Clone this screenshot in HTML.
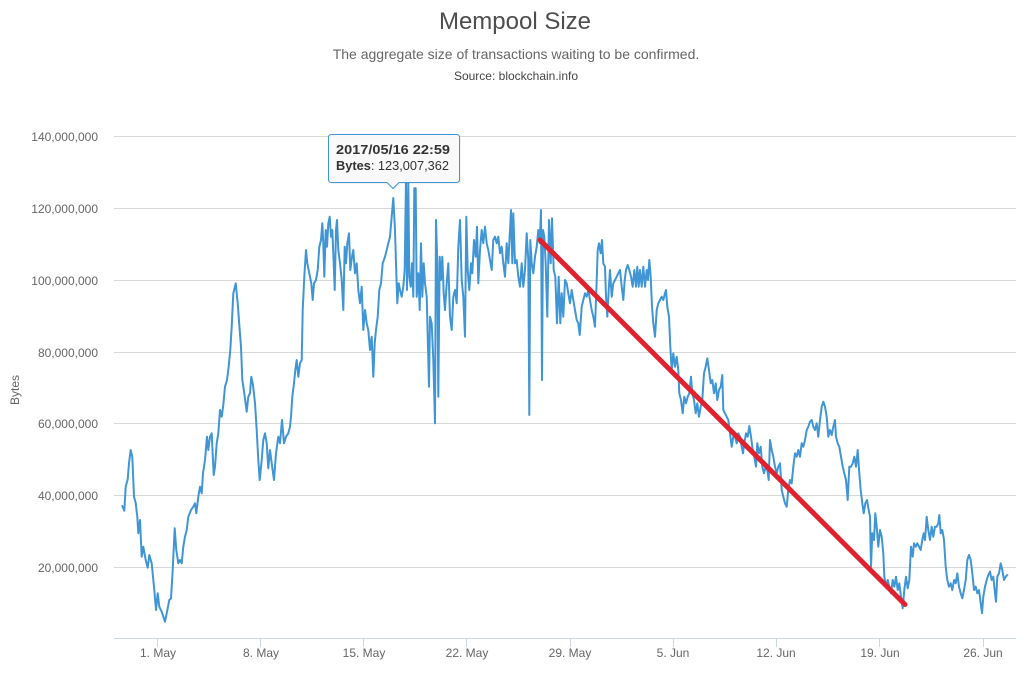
<!DOCTYPE html>
<html>
<head>
<meta charset="utf-8">
<style>
  html,body{margin:0;padding:0;background:#fff;}
  body{width:1030px;height:680px;overflow:hidden;}
  svg{display:block;font-family:"Liberation Sans",Arial,sans-serif;}
</style>
</head>
<body>
<svg width="1030" height="680" viewBox="0 0 1030 680" xmlns="http://www.w3.org/2000/svg">
  <rect x="0" y="0" width="1030" height="680" fill="#ffffff"/>

  <!-- titles -->
  <text x="515" y="29" text-anchor="middle" font-size="24" fill="#4d4d4d">Mempool Size</text>
  <text x="516" y="59" text-anchor="middle" font-size="14" fill="#666666">The aggregate size of transactions waiting to be confirmed.</text>
  <text x="516" y="80" text-anchor="middle" font-size="12" fill="#444444">Source: blockchain.info</text>

  <!-- gridlines -->
  <g stroke="#d8d8d8" stroke-width="1">
    <line x1="114" y1="136.5" x2="1016" y2="136.5"/>
    <line x1="114" y1="208.5" x2="1016" y2="208.5"/>
    <line x1="114" y1="280.5" x2="1016" y2="280.5"/>
    <line x1="114" y1="352.5" x2="1016" y2="352.5"/>
    <line x1="114" y1="423.5" x2="1016" y2="423.5"/>
    <line x1="114" y1="495.5" x2="1016" y2="495.5"/>
    <line x1="114" y1="567.5" x2="1016" y2="567.5"/>
  </g>

  <!-- y labels -->
  <g font-size="12" fill="#666666" text-anchor="end">
    <text x="98" y="141">140,000,000</text>
    <text x="98" y="213">120,000,000</text>
    <text x="98" y="285">100,000,000</text>
    <text x="98" y="357">80,000,000</text>
    <text x="98" y="428">60,000,000</text>
    <text x="98" y="500">40,000,000</text>
    <text x="98" y="572">20,000,000</text>
  </g>
  <text x="19" y="390" font-size="12" fill="#666666" text-anchor="middle" transform="rotate(-90 19 390)">Bytes</text>

  <!-- x axis -->
  <line x1="114" y1="638.5" x2="1016" y2="638.5" stroke="#ccd6eb" stroke-width="1"/>
  <g stroke="#ccd6eb" stroke-width="1">
    <line x1="157.5" y1="638.5" x2="157.5" y2="647"/>
    <line x1="260.5" y1="638.5" x2="260.5" y2="647"/>
    <line x1="363.5" y1="638.5" x2="363.5" y2="647"/>
    <line x1="466.5" y1="638.5" x2="466.5" y2="647"/>
    <line x1="570.5" y1="638.5" x2="570.5" y2="647"/>
    <line x1="673.5" y1="638.5" x2="673.5" y2="647"/>
    <line x1="776.5" y1="638.5" x2="776.5" y2="647"/>
    <line x1="879.5" y1="638.5" x2="879.5" y2="647"/>
    <line x1="983.5" y1="638.5" x2="983.5" y2="647"/>
  </g>
  <g font-size="12" fill="#666666" text-anchor="middle">
    <text x="158" y="657">1. May</text>
    <text x="261" y="657">8. May</text>
    <text x="364" y="657">15. May</text>
    <text x="467" y="657">22. May</text>
    <text x="570" y="657">29. May</text>
    <text x="673" y="657">5. Jun</text>
    <text x="776" y="657">12. Jun</text>
    <text x="880" y="657">19. Jun</text>
    <text x="983" y="657">26. Jun</text>
  </g>

  <!-- series -->
  <polyline fill="none" stroke="#4096d4" stroke-width="2" stroke-linejoin="round" stroke-linecap="round" points="
122.3,506 124.3,510.7 125.7,486.7 127.7,479.3 129,463.3 130.7,450 132.3,456.7 134,496.7 135.7,503 137.3,516.7 138.3,533.3 140,520 141.7,556.7 143.3,546.7 145.7,560 147.7,567.7 149.3,555 151.7,563.3 154.3,590 156,610 157.7,593.3 159.3,606.7 161.7,611.7 165,621.7 167.7,608.3 169.3,600 171,598.3 172.7,570 174.7,528.3 176.3,550 178.3,563.3 180,560 181.7,563.3 183.3,546.7 185,536.7 186.7,530 188.3,516.7 191,510 193.3,506.7 195,503.3 196.3,513.3 198.3,496.7 200,486.7 201.7,493.3 203,473.3 205,460 207,436.7 208.3,450 210,436.7 211.7,433.3 213.7,475 215,466.7 216.7,443.3 218.3,433.3 220,410 221.7,416.7 223.3,405 225,386.7 227,380 228.3,370 230.3,350 231.7,326.7 233.3,293.3 235.7,283.3 237.7,303.3 239.7,330 241,346.7 242.3,380 244.3,393.3 246.7,411.7 248.3,396.7 250,393.3 251.3,376.7 253,385 255,403.3 256.7,430 258.3,460 259.7,480 261.7,460 263.3,440 265,433.3 266.7,443.3 268.3,468.3
270,450 271.7,463.3 274,480 276,453.3 278.3,436.7 280,443.3 282,420 284,443.3 286,436.7 288.3,433.3 290,426.7 291,416.7 292.3,396.7 294,383.3 295.3,370 296.7,360 298.3,376.7 300,363.3 301.7,360 302.7,310 304.3,276.7 306,250 307.3,263.3 309.3,273.3 311.3,283.3 312.7,300 314,283.3 316,280 317.7,270 319.3,246.7 321,240 322.3,223.3 323.3,243.3 324.3,276.7 325.7,230 327,246.7 328.3,223.3 329.7,216.7 331,236.7 332.3,230 333.7,263.3 334.7,290 336,230 337,220 338.3,250 340,263.3 341.7,280 343.3,310 344.7,246.7 346,263.3 347.3,243.3 349,233.3 350.3,270 352,256.7 353.3,250 355,273.3 356.7,263.3 358.3,290 360,303.3 361.7,286.7 363.3,330 365,310 366.7,323.3 368.3,330 370,350 371.7,336.7 373.3,376.7 374.7,343.3 376,330 377.7,316.7 379.3,290 381,283.3 382.7,263.3 385,256.7 386.7,250 388.3,243.3 390,236.7 391.7,216.7 393.3,198 395,230 396,263.3 397.3,303.3 398.7,283.3 400,290 401.7,296.7 403.3,286.7 404.7,270 406,180 407,290 408.3,183.3 409.3,276.7 410.7,286.7 412,263.3 413.3,296.7 414.3,188.3 415.7,188.3 416.7,296.7 418.3,273.3 419.7,310 421,243.3 422.3,296.7 423.7,263.3 425,283.3 426.7,296.7
429,386.7 430,316.7 431.7,323.3 433.3,360 435,423.3 436,220 437.3,263.3 438.3,396.7 439.7,256.7 441,280 442.3,256.7 443.7,293.3 445,310 446.7,283.3 448.3,263.3 450,316.7 451.7,330 453.3,296.7 455,290 456.7,303.3 458.3,246.7 460,220 461.7,280 463.3,296.7 465,336.7 466.3,216.7 467.7,270 469.3,290 471,263.3 472.3,273.3 474,240 475.7,256.7 477,226.7 478.3,283.3 480,250 481.7,230 483.3,243.3 485,226.7 486.7,243.3 488.3,250 490,260 491.7,270 493.3,240 495,236.7 496.7,243.3 498.3,236.7 500,253.3 501.7,246.7 503.3,263.3 505,276.7 506.7,243.3 508.3,263.3 510,230 511,210 512.3,263.3 513.3,213.3 515,263.3 516.7,260 518.3,276.7 520,286.7 521.7,263.3 523.3,286.7 525,270 526.7,233.3 528.3,260 529.3,415 530.3,240 531.7,263.3 533.3,273.3 535,256.7 536.7,246.7 538.3,230 539.7,243.3 541,210 542,380 543,230 544.3,236.7 545.7,263.3 547.3,316.7 549,220 550.7,263.3 552,218.3 553.7,270 555.3,276.7 557,323.3 558.7,276.7 560.3,323.3 561.7,293.3 563.3,316.7 565,280 566.7,283.3 568.3,293.3 570,303.3 571.7,290 573.3,300 575,310 576.7,320 578.3,323.3 579.7,335
581.7,306.7 583.3,300 585,293.3 586.7,296.7 588.3,290 590,300 591.7,310 593.3,316.7 595,326.7 596.7,280 597.7,250 599,243.3 600.7,253.3 602,240 603.3,263.3 605,266.7 606,296.7 607.3,316.7 608.7,290 610,270 611.7,296.7 613.3,283.3 615,280 616.7,276.7 618.3,273.3 620,270 621.7,286.7 623.3,300 624.7,280 626,270 627.7,265 629.3,270 631,276.7 632.7,286.7 634.3,270 636,286.7 637.3,266.7 638.7,286.7 640,270 641.7,286.7 643.3,266.7 645,286.7 646.7,270 648,280 649.3,260 650.7,276.7 652,306.7 653.3,323.3 655,336.7 656.7,310 658.3,303.3 660,300 661.7,296.7 663.3,300 665,293.3 666,290 667.3,306.7 669,316.7 670.3,346.7 671.7,370 673.3,353.3 675,366.7 676.7,356.7 678.3,370 679.3,393.3 681,400 682.7,413.3 684.3,396.7 686,403.3 687.7,396.7 689.3,393.3 691,376.7 692.3,393.3 694,400 695.7,413.3 697.3,403.3 699,416.7 700.7,406.7 702.3,400 704,373.3 705.7,366.7 707.3,358.3 709,370 710.7,383.3 712.3,380 714,393.3 715.7,383.3 717.3,400 719,390 720.7,386.7 722.3,375 723.3,410 725,413.3 726.7,416.7 728.3,420 730,433.3 731.7,446.7 733.3,436.7
735,436.7 736.7,443.3 738.3,433.3 740,436.7 741.7,446.7 743,453.3 744.3,443.3 746,433.3 747.7,436.7 749.3,426 751,436.7 752.7,450 754.3,456.7 756,466.7 757.3,443.3 759,453.3 760.7,446.7 762.3,466.7 764,473.3 765.7,466.7 767.3,470 768.7,480 770,440 771.7,450 773.3,456.7 775,466.7 776.7,473.3 778.3,466.7 780,463.3 781.7,490 783.3,496.7 785,503.3 786.7,506.7 788.3,490 790,480 791.7,483.3 793.3,466.7 795,453.3 796.7,456.7 798.3,450 800,456.7 801.7,443.3 803.3,446.7 805,440 806.7,430 808.3,426.7 810,421.7 811.7,420 813.3,426.7 815,430 816.7,423.3 818.3,436.7 820,420 821.7,406.7 823.3,401.7 825,406.7 826.7,416.7 828.3,436.7 830,430 831.7,435 833.3,426.7 835,420 836,436.7 837.7,443.3 839.3,446.7 841,456.7 842.7,466.7 844.3,473.3 846,480 847.7,500 849.3,466.7 851,466.7 852.7,463.3 854.3,456.7 856,466.7 857.7,450 859.3,473.3 860.7,490 862.3,503.3 863.7,513.3 865.3,503.3 867,500 868.7,510 870,516.7 871,566.7 872.3,533.3 874,540 875.3,513.3 876.7,526.7 878.3,546.7
880,530 881.7,536.7 883.3,553.3 884.3,576.7 886,586.7 887.7,580 889.3,586.7 891,593.3 892.7,580 894.3,586.7 896,576.7 897.7,590 899.3,583.3 901,596.7 902.7,608.3 904.3,590 906,576.7 907.7,588.3 909.3,580 911,546.7 912.7,556.7 914,543.3 915.7,546.7 917.3,543.3 919,546.7 920.7,550 922.3,540 923.7,533.3 925,540 926.7,516.7 928.3,530 930,540 931.7,526.7 933.3,536.7 935,526.7 936.7,526.7 938.3,523.3 939.3,515 940.7,533.3 942.3,530 944,540 945.7,566.7 947.3,580 949,586.7 950.7,583.3 952.3,590 954,580 955.7,583.3 957.3,573.3 959,586.7 960.7,593.3 962.3,598.3 964,590 965.7,580 967.3,560 969,555 970.7,560 972.3,573.3 974,590 975.7,586.7 977.3,593.3 979,590 980.7,603.3 982,613.3 983.3,596.7 985,586.7 986.7,580 988.3,575 990,571.7 991.7,580 993.3,576.7 995,593.3 996,601.7 997.3,576.7 999,573.3 1000.7,563.3 1002.3,570 1004,580 1005.7,576.7 1007.3,575"/>

  <!-- red trend line -->
  <line x1="540" y1="240" x2="905" y2="604.5" stroke="#e0222f" stroke-width="5" stroke-linecap="round"/>

  <!-- tooltip -->
  <g>
    <path d="M331.5,134.5 L456.5,134.5 Q459.5,134.5 459.5,137.5 L459.5,179.5 Q459.5,182.5 456.5,182.5 L399,182.5 L393,188.5 L387,182.5 L331.5,182.5 Q328.5,182.5 328.5,179.5 L328.5,137.5 Q328.5,134.5 331.5,134.5 Z" fill="#000" fill-opacity="0.06" transform="translate(1.5,1.5)"/>
    <path d="M331.5,134.5 L456.5,134.5 Q459.5,134.5 459.5,137.5 L459.5,179.5 Q459.5,182.5 456.5,182.5 L399,182.5 L393,188.5 L387,182.5 L331.5,182.5 Q328.5,182.5 328.5,179.5 L328.5,137.5 Q328.5,134.5 331.5,134.5 Z" fill="#f9f9f9" fill-opacity="0.95" stroke="#4096d4" stroke-width="1"/>
    <text x="336" y="154" font-size="13" font-weight="bold" fill="#333333" textLength="114" lengthAdjust="spacingAndGlyphs">2017/05/16 22:59</text>
    <text x="336" y="170" font-size="13" fill="#333333" textLength="113" lengthAdjust="spacingAndGlyphs"><tspan font-weight="bold">Bytes</tspan>: 123,007,362</text>
  </g>
</svg>
</body>
</html>
